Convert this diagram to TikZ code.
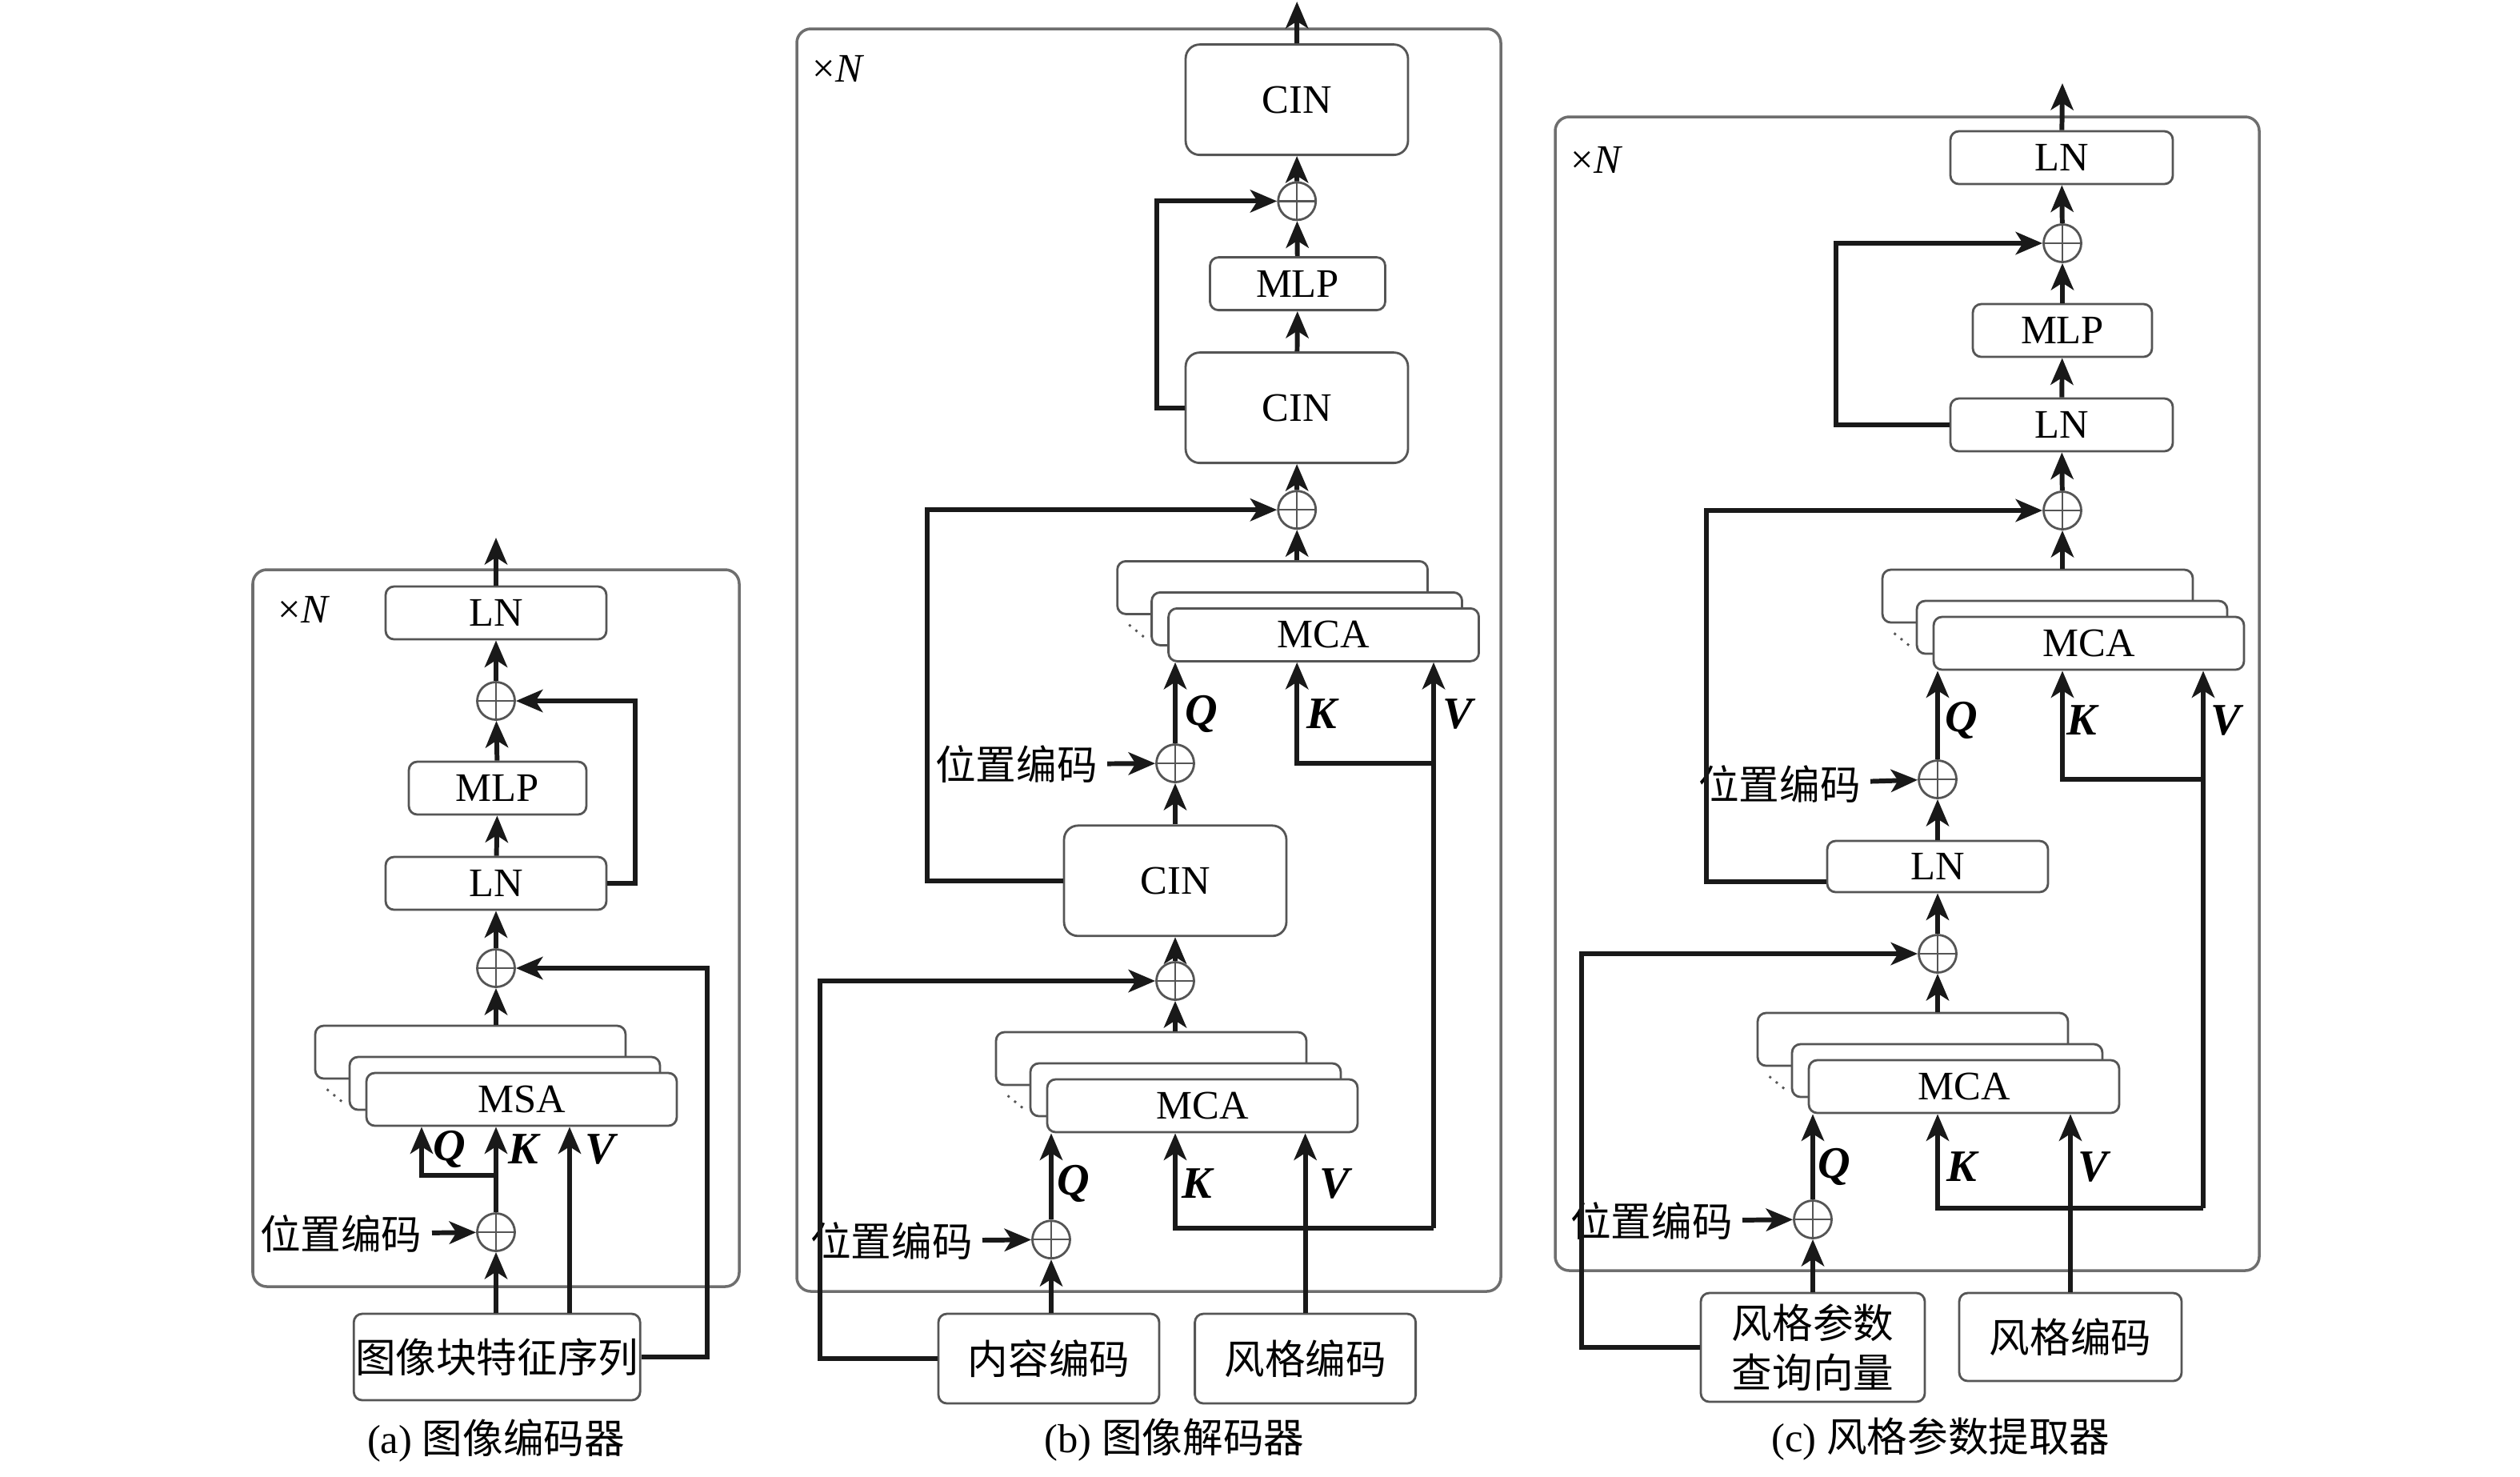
\documentclass[tikz,border=0pt]{standalone}
\usepackage{fontspec}
\setmainfont{Liberation Serif}
\newfontfamily\cjk{Noto Sans CJK SC}
\usetikzlibrary{arrows.meta}
\definecolor{boxgray}{RGB}{85,85,85}
\definecolor{framegray}{RGB}{110,110,110}
\definecolor{linegray}{RGB}{25,25,25}
\tikzset{every node/.style = {font=\fontsize{14.4}{17.7}\selectfont}}
\tikzset{block/.style = {rectangle, rounded corners=3pt, draw=boxgray, line width=0.8pt, fill=white, inner sep=0pt, text centered, minimum height=0.66cm}}
\tikzset{bigblock/.style = {block, rounded corners=5pt, minimum width=2.78cm, minimum height=1.38cm}}
\tikzset{head/.style = {block, minimum width=3.88cm, minimum height=0.66cm}}
\tikzset{sum/.style = {circle, draw=boxgray, line width=0.8pt, fill=white, minimum size=0.47cm, inner sep=0pt, path picture={\draw[boxgray, line width=0.7pt] (path picture bounding box.north) -- (path picture bounding box.south) (path picture bounding box.west) -- (path picture bounding box.east);}}}
\tikzset{frame/.style = {draw=framegray, line width=1pt, rounded corners=5pt}}
\tikzset{arrow/.style = {draw=linegray, line width=1.7pt, -{Stealth[length=9.5pt, width=8pt, inset=2.5pt]}}}
\tikzset{qkv/.style = {font=\fontsize{16}{19}\selectfont\bfseries\itshape, inner sep=0pt}}
\tikzset{dots/.style = {boxgray, line width=0.8pt, dash pattern=on 0.8pt off 2.2pt}}

\begin{document}
\begin{tikzpicture}[x=0.02cm, y=-0.02cm]
	\useasboundingbox (0,0) rectangle (1575,922.5);
	
	% (a) image encoder
	\draw [frame] (158,356) rectangle (462,804);
	\node (nA) 		at (190,381) 							{×\textit{N}};
	\node (lnA2) 	[block, minimum width=2.76cm] at (310,383) 	{LN};
	\node (sumA2) 	[sum] at (310,438) 						{};
	\node (mlpA) 	[block, minimum width=2.22cm] at (311,492.5) 	{MLP};
	\node (lnA1) 	[block, minimum width=2.76cm] at (310,552) 	{LN};
	\node (sumA1) 	[sum] at (310,605) 						{};
	\node (msaAb) 	[head] at (294,657.5) 					{};
	\draw [dots] ([xshift=0.16cm, yshift=-0.12cm]msaAb.south west) -- ([xshift=0.38cm, yshift=-0.3cm]msaAb.south west);
	\node (msaAm) 	[head] at ([xshift=0.43cm, yshift=-0.39cm]msaAb.center) {};
	\node (msaA) 	[head] at ([xshift=0.64cm, yshift=-0.59cm]msaAb.center) {MSA};
	\node (sumA0) 	[sum] at (310,770) 						{};
	\node (peA) 	[anchor=east] at (270,771) 				{\cjk 位置编码};
	\node (inA) 	[block, minimum width=3.58cm, minimum height=1.08cm] at (310.6,848) {\cjk 图像块特征序列};
	\node (qlA) 	[qkv] at (281,718) 						{Q};
	\node (klA) 	[qkv] at (327,718) 						{K};
	\node (vlA) 	[qkv] at (375,718) 						{V};
	\node (capA) 	at (310,900) 							{(a) {\cjk 图像编码器}};
	\coordinate (qA) at (263.5,734.5);
	\coordinate (vA) at (356,0);
	\coordinate (outA) at (310,336);
	
	\draw [arrow] (peA) 				-- (sumA0);
	\draw [arrow] (sumA0 |- inA.north) 	-- (sumA0);
	\draw [arrow] (sumA0) 				-- (sumA0 |- msaA.south);
	\draw [arrow] (sumA0 |- qA) 		-- (qA) -- (qA |- msaA.south);
	\draw [arrow] (inA.north -| vA) 	-- (msaA.south -| vA);
	\draw [arrow] (sumA1 |- msaAb.north) -- (sumA1);
	\draw [arrow] (sumA1) 	-- (lnA1);
	\draw [arrow] (lnA1) 	-- (mlpA);
	\draw [arrow] (mlpA) 	-- (sumA2);
	\draw [arrow] (sumA2) 	-- (lnA2);
	\draw [arrow] (lnA2) 	-- (outA);
	\draw [arrow] (lnA1.east) 	-- ++(17.5,0) |- (sumA2.east);
	\draw [arrow] (inA.east) 	-- ++(41,0) |- (sumA1.east);
	
	% (b) image decoder
	\draw [frame] (498,18) rectangle (938,807);
	\node (nB) 		at (524,43) 							{×\textit{N}};
	\node (cinB3) 	[bigblock] at (810.5,62.3) 				{CIN};
	\node (sumB3) 	[sum] at (810.6,125.7) 					{};
	\node (mlpB) 	[block, minimum width=2.19cm] at (811,177.3) 	{MLP};
	\node (cinB2) 	[bigblock] at (810.5,254.8) 			{CIN};
	\node (sumB2) 	[sum] at (810.6,318.6) 					{};
	\node (mcaB2b) 	[head] at (795.3,367.2) 				{};
	\draw [dots] ([xshift=0.16cm, yshift=-0.12cm]mcaB2b.south west) -- ([xshift=0.38cm, yshift=-0.3cm]mcaB2b.south west);
	\node (mcaB2m) 	[head] at ([xshift=0.43cm, yshift=-0.39cm]mcaB2b.center) {};
	\node (mcaB2) 	[head] at ([xshift=0.64cm, yshift=-0.59cm]mcaB2b.center) {MCA};
	\node (sumB1) 	[sum] at (734.5,477) 					{};
	\node (peB1) 	[anchor=east] at (692,477.6) 			{\cjk 位置编码};
	\node (cinB1) 	[bigblock] at (734.5,550.4) 			{CIN};
	\node (sumB0) 	[sum] at (734.5,613) 					{};
	\node (mcaB1b) 	[head] at (719.5,661.5) 				{};
	\draw [dots] ([xshift=0.16cm, yshift=-0.12cm]mcaB1b.south west) -- ([xshift=0.38cm, yshift=-0.3cm]mcaB1b.south west);
	\node (mcaB1m) 	[head] at ([xshift=0.43cm, yshift=-0.39cm]mcaB1b.center) {};
	\node (mcaB1) 	[head] at ([xshift=0.64cm, yshift=-0.59cm]mcaB1b.center) {MCA};
	\node (sumBq) 	[sum] at (657,774.6) 					{};
	\node (peB0) 	[anchor=east] at (614,775.5) 			{\cjk 位置编码};
	\node (inB1) 	[block, minimum width=2.76cm, minimum height=1.12cm] at (655.5,849) {\cjk 内容编码};
	\node (inB2) 	[block, minimum width=2.76cm, minimum height=1.12cm] at (815.8,849) {\cjk 风格编码};
	\node (qlB2) 	[qkv] at (751,446) 						{Q};
	\node (klB2) 	[qkv] at (826,446) 						{K};
	\node (vlB2) 	[qkv] at (911,446) 						{V};
	\node (qlB1) 	[qkv] at (671,739.6) 					{Q};
	\node (klB1) 	[qkv] at (748,739.6) 					{K};
	\node (vlB1) 	[qkv] at (834,739.6) 					{V};
	\node (capB) 	at (734,900) 							{(b) {\cjk 图像解码器}};
	\coordinate (kvB) at (896,767.4);
	\coordinate (outB) at (810.6,1);
	
	\draw [arrow] (peB0) 				-- (sumBq);
	\draw [arrow] (sumBq |- inB1.north) -- (sumBq);
	\draw [arrow] (sumBq) 				-- (sumBq |- mcaB1.south);
	\draw [arrow] (inB2.north) 			-- (inB2.north |- mcaB1.south);
	\draw [arrow] (kvB) 				-| (sumB0 |- mcaB1.south);
	\draw [arrow] (kvB) 				-- (kvB |- mcaB2.south);
	\draw [arrow] (kvB |- sumB1) 		-| (sumB2 |- mcaB2.south);
	\draw [arrow] (sumB0 |- mcaB1b.north) -- (sumB0);
	\draw [arrow] (sumB0) 	-- (cinB1);
	\draw [arrow] (cinB1) 	-- (sumB1);
	\draw [arrow] (peB1) 	-- (sumB1);
	\draw [arrow] (sumB1) 	-- (sumB1 |- mcaB2.south);
	\draw [arrow] (sumB2 |- mcaB2b.north) -- (sumB2);
	\draw [arrow] (sumB2) 	-- (cinB2);
	\draw [arrow] (cinB2) 	-- (mlpB);
	\draw [arrow] (mlpB) 	-- (sumB3);
	\draw [arrow] (sumB3) 	-- (cinB3);
	\draw [arrow] (cinB3) 	-- (outB);
	\draw [arrow] (inB1.west) 	-- ++(-73.5,0) |- (sumB0.west);
	\draw [arrow] (cinB1.west) 	-- ++(-85,0) |- (sumB2.west);
	\draw [arrow] (cinB2.west) 	-- ++(-17.3,0) |- (sumB3.west);
	
	% (c) style parameter extractor
	\draw [frame] (972,73) rectangle (1412,794);
	\node (nC) 		at (998,100) 							{×\textit{N}};
	\node (lnC3) 	[block, minimum width=2.78cm] at (1288.5,98.5) 	{LN};
	\node (sumC3) 	[sum] at (1289,152) 					{};
	\node (mlpC) 	[block, minimum width=2.24cm] at (1289,206.5) 	{MLP};
	\node (lnC2) 	[block, minimum width=2.78cm] at (1288.5,265.5) {LN};
	\node (sumC2) 	[sum] at (1289,319) 					{};
	\node (mcaC2b) 	[head] at (1273.5,372.5) 				{};
	\draw [dots] ([xshift=0.16cm, yshift=-0.12cm]mcaC2b.south west) -- ([xshift=0.38cm, yshift=-0.3cm]mcaC2b.south west);
	\node (mcaC2m) 	[head] at ([xshift=0.43cm, yshift=-0.39cm]mcaC2b.center) {};
	\node (mcaC2) 	[head] at ([xshift=0.64cm, yshift=-0.59cm]mcaC2b.center) {MCA};
	\node (sumC1) 	[sum] at (1211,487) 					{};
	\node (peC1) 	[anchor=east] at (1169,490) 			{\cjk 位置编码};
	\node (lnC1) 	[block, minimum width=2.76cm, minimum height=0.64cm] at (1211,541.5) {LN};
	\node (sumC0) 	[sum] at (1211,596) 					{};
	\node (mcaC1b) 	[head] at (1195.5,649.5) 				{};
	\draw [dots] ([xshift=0.16cm, yshift=-0.12cm]mcaC1b.south west) -- ([xshift=0.38cm, yshift=-0.3cm]mcaC1b.south west);
	\node (mcaC1m) 	[head] at ([xshift=0.43cm, yshift=-0.39cm]mcaC1b.center) {};
	\node (mcaC1) 	[head] at ([xshift=0.64cm, yshift=-0.59cm]mcaC1b.center) {MCA};
	\node (sumCq) 	[sum] at (1133,762) 					{};
	\node (peC0) 	[anchor=east] at (1089,763) 			{\cjk 位置编码};
	\node (inC1) 	[block, minimum width=2.8cm, minimum height=1.36cm, align=center] at (1133,842) {\cjk 风格参数\\\cjk 查询向量};
	\node (inC2) 	[block, minimum width=2.78cm, minimum height=1.1cm] at (1294,835.5) {\cjk 风格编码};
	\node (qlC2) 	[qkv] at (1226,450) 					{Q};
	\node (klC2) 	[qkv] at (1301,450) 					{K};
	\node (vlC2) 	[qkv] at (1391,450) 					{V};
	\node (qlC1) 	[qkv] at (1146.5,729) 					{Q};
	\node (klC1) 	[qkv] at (1226,729) 					{K};
	\node (vlC1) 	[qkv] at (1308,729) 					{V};
	\node (capC) 	at (1213,899) 							{(c) {\cjk 风格参数提取器}};
	\coordinate (kvC) at (1377,755);
	\coordinate (outC) at (1289,52);
	
	\draw [arrow] (peC0) 				-- (sumCq);
	\draw [arrow] (inC1) 				-- (sumCq);
	\draw [arrow] (sumCq) 				-- (sumCq |- mcaC1.south);
	\draw [arrow] (inC2.north) 			-- (inC2.north |- mcaC1.south);
	\draw [arrow] (kvC) 				-| (sumC0 |- mcaC1.south);
	\draw [arrow] (kvC) 				-- (kvC |- mcaC2.south);
	\draw [arrow] (kvC |- sumC1) 		-| (sumC2 |- mcaC2.south);
	\draw [arrow] (sumC0 |- mcaC1b.north) -- (sumC0);
	\draw [arrow] (sumC0) 	-- (lnC1);
	\draw [arrow] (lnC1) 	-- (sumC1);
	\draw [arrow] (peC1) 	-- (sumC1);
	\draw [arrow] (sumC1) 	-- (sumC1 |- mcaC2.south);
	\draw [arrow] (sumC2 |- mcaC2b.north) -- (sumC2);
	\draw [arrow] (sumC2) 	-- (lnC2);
	\draw [arrow] (lnC2) 	-- (mlpC);
	\draw [arrow] (mlpC) 	-- (sumC3);
	\draw [arrow] (sumC3) 	-- (lnC3);
	\draw [arrow] (lnC3) 	-- (outC);
	\draw [arrow] (inC1.west) 	-- ++(-74,0) |- (sumC0.west);
	\draw [arrow] ([yshift=-0.19cm]lnC1.west) -- ++(-75,0) |- (sumC2.west);
	\draw [arrow] (lnC2.west) 	-- ++(-71,0) |- (sumC3.west);
\end{tikzpicture}
\end{document}
